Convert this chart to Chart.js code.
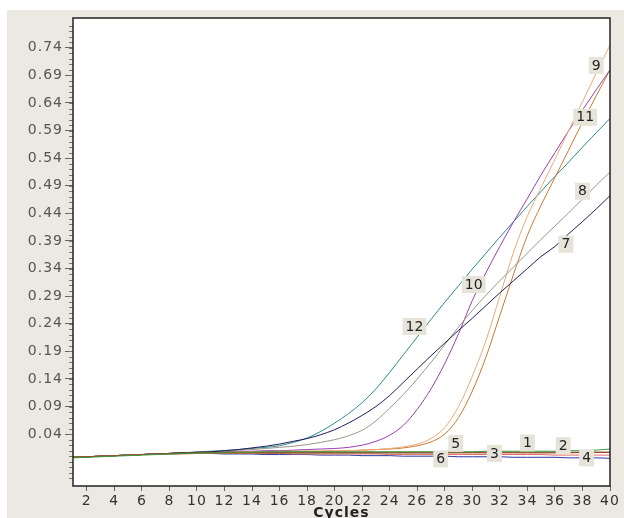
<!DOCTYPE html>
<html>
<head>
<meta charset="utf-8">
<script src="https://cdn.jsdelivr.net/npm/chart.js@4.4.0/dist/chart.umd.min.js"></script>
<style>
  html, body { margin: 0; padding: 0; background: #fff; }
  #wrap { width: 624px; height: 518px; }
</style>
</head>
<body>
<div id="wrap"><canvas id="myChart" width="624" height="518"></canvas></div>
<script>
const cycles = [1,2,3,4,5,6,7,8,9,10,11,12,13,14,15,16,17,18,19,20,21,22,23,24,25,26,27,28,29,30,31,32,33,34,35,36,37,38,39,40]

const yTicks = [0.04,0.09,0.14,0.19,0.24,0.29,0.34,0.39,0.44,0.49,0.54,0.59,0.64,0.69,0.74]

const well1 = [-0.003,-0.002,-0.001,0.000,0.001,0.002,0.003,0.004,0.005,0.006, 0.006,0.007,0.007,0.007,0.008,0.008,0.008,0.008,0.008,0.008, 0.008,0.008,0.008,0.008,0.008,0.008,0.008,0.008,0.008,0.008, 0.009,0.009,0.009,0.009,0.009,0.009,0.010,0.010,0.011,0.013]
const well2 = [-0.002,-0.001,0.000,0.001,0.002,0.003,0.004,0.005,0.005,0.006, 0.006,0.006,0.006,0.006,0.006,0.006,0.006,0.006,0.006,0.006, 0.006,0.006,0.006,0.006,0.006,0.006,0.006,0.006,0.006,0.006, 0.006,0.006,0.006,0.006,0.006,0.006,0.006,0.007,0.007,0.007]
const well3 = [-0.002,-0.001,0.000,0.001,0.002,0.003,0.004,0.004,0.005,0.005, 0.006,0.006,0.006,0.006,0.006,0.006,0.006,0.006,0.006,0.006, 0.006,0.006,0.006,0.006,0.006,0.006,0.006,0.007,0.007,0.007, 0.007,0.007,0.007,0.007,0.007,0.007,0.007,0.007,0.007,0.007]
const well4 = [-0.002,-0.001,0.000,0.001,0.002,0.003,0.003,0.004,0.004,0.005, 0.005,0.005,0.005,0.005,0.005,0.005,0.004,0.004,0.004,0.004, 0.004,0.004,0.004,0.003,0.003,0.003,0.003,0.003,0.003,0.003, 0.003,0.003,0.003,0.003,0.003,0.002,0.002,0.002,0.002,0.002]
const well5 = [-0.002,-0.001,0.000,0.001,0.002,0.003,0.004,0.005,0.006,0.006, 0.007,0.007,0.007,0.007,0.007,0.007,0.007,0.007,0.007,0.007, 0.007,0.007,0.007,0.007,0.007,0.007,0.007,0.007,0.007,0.007, 0.007,0.007,0.007,0.007,0.007,0.007,0.007,0.007,0.007,0.007]
const well6 = [-0.002,-0.001,0.000,0.001,0.002,0.003,0.004,0.004,0.005,0.005, 0.005,0.004,0.004,0.004,0.003,0.003,0.003,0.003,0.002,0.002, 0.002,0.001,0.001,0.001,0.000,0.000,0.000,0.000,-0.001,-0.001, -0.001,-0.001,-0.002,-0.002,-0.002,-0.002,-0.003,-0.003,-0.003,-0.004]
const well7 = [-0.002,-0.001,0.000,0.001,0.002,0.003,0.004,0.005,0.006,0.007, 0.008,0.010,0.012,0.015,0.018,0.022,0.027,0.032,0.039,0.048, 0.060,0.074,0.090,0.110,0.134,0.158,0.182,0.205,0.228,0.250, 0.273,0.296,0.318,0.340,0.362,0.380,0.403,0.425,0.448,0.472]
const well8 = [-0.002,-0.001,0.000,0.001,0.002,0.003,0.004,0.005,0.006,0.007, 0.008,0.009,0.011,0.012,0.014,0.016,0.018,0.021,0.025,0.030, 0.037,0.047,0.064,0.087,0.112,0.140,0.170,0.202,0.234,0.264, 0.292,0.318,0.343,0.368,0.393,0.417,0.441,0.466,0.491,0.515]
const well9 = [-0.002,-0.001,0.000,0.001,0.002,0.003,0.004,0.005,0.006,0.006, 0.007,0.007,0.008,0.008,0.008,0.009,0.009,0.009,0.009,0.010, 0.010,0.011,0.012,0.014,0.017,0.022,0.032,0.052,0.090,0.145, 0.210,0.290,0.370,0.435,0.487,0.538,0.590,0.642,0.694,0.745]
const well10 = [-0.002,-0.001,0.000,0.001,0.002,0.003,0.004,0.005,0.006,0.007, 0.008,0.008,0.009,0.009,0.010,0.010,0.011,0.012,0.013,0.014, 0.016,0.020,0.027,0.038,0.056,0.085,0.122,0.168,0.222,0.282, 0.333,0.380,0.425,0.467,0.510,0.550,0.590,0.627,0.664,0.700]
const well11 = [-0.002,-0.001,0.000,0.001,0.002,0.003,0.004,0.005,0.006,0.006, 0.007,0.007,0.008,0.008,0.008,0.009,0.009,0.009,0.009,0.010, 0.010,0.011,0.012,0.013,0.015,0.019,0.026,0.040,0.070,0.118, 0.180,0.255,0.330,0.400,0.455,0.505,0.555,0.605,0.653,0.700]
const well12 = [-0.002,-0.001,0.000,0.001,0.002,0.003,0.004,0.005,0.006,0.008, 0.009,0.010,0.012,0.014,0.016,0.019,0.025,0.033,0.045,0.060, 0.077,0.097,0.122,0.152,0.184,0.216,0.248,0.279,0.309,0.339, 0.368,0.397,0.425,0.453,0.480,0.507,0.533,0.560,0.586,0.612]

const wellNames = ["1","2","3","4","5","6","7","8","9","10","11","12"]
const wellColors = ["#3a9a3a","#b02a20","#78c070","#e07060","#3a2a22","#2a3aa8","#1e1e5a","#a09488","#eeaa78","#9a40b0","#cc7a30","#2e8a92"]
// where each number box sits (cycle, value)
const tagCycles = [34.0, 36.6, 31.6, 38.3, 28.8, 27.7, 36.8, 38.0, 39.0, 30.1, 38.2, 25.8]
const tagValues = [0.025, 0.020, 0.006, -0.002, 0.024, -0.004, 0.385, 0.481, 0.709, 0.312, 0.615, 0.236]

const allWells = [well1,well2,well3,well4,well5,well6,well7,well8,well9,well10,well11,well12]

const datasets = allWells.map((w, i) => {
  return {
    label: wellNames[i],
    data: cycles.map((c, j) => ({x: c, y: w[j]})),
    borderColor: wellColors[i],
    borderWidth: 1,
    pointRadius: 0,
    cubicInterpolationMode: "monotone",
    fill: false
  }
})

const frame = {
  id: "frame",
  beforeDraw(chart) {
    const ctx = chart.ctx
    const a = chart.chartArea
    ctx.save()
    ctx.fillStyle = "#ffffff"
    ctx.fillRect(0, 0, chart.width, chart.height)
    ctx.fillStyle = "#ece9e3"
    ctx.fillRect(7, 10, chart.width - 7, chart.height - 10)
    ctx.fillStyle = "#ffffff"
    ctx.fillRect(a.left, a.top, a.right - a.left, a.bottom - a.top)
    ctx.restore()
    // the old software spreads its digits a bit
    ctx.letterSpacing = "1px"
  },
  afterDraw(chart) {
    const ctx = chart.ctx
    const a = chart.chartArea
    const ys = chart.scales.y
    ctx.letterSpacing = "0px"
    ctx.save()
    // minor ticks on y
    ctx.strokeStyle = "#777"
    ctx.lineWidth = 1
    for (let v = -0.04; v <= 0.79; v += 0.01) {
      const py = Math.round(ys.getPixelForValue(v)) + 0.5
      if (py < a.top || py > a.bottom) continue
      ctx.beginPath()
      ctx.moveTo(a.left - 4, py)
      ctx.lineTo(a.left, py)
      ctx.stroke()
    }
    // box round plot
    ctx.strokeStyle = "#222"
    ctx.lineWidth = 1.5
    ctx.strokeRect(a.left, a.top, a.right - a.left, a.bottom - a.top)
    // number tags
    ctx.font = "14px 'DejaVu Sans'"
    ctx.textAlign = "center"
    ctx.textBaseline = "middle"
    wellNames.forEach((n, i) => {
      const px = chart.scales.x.getPixelForValue(tagCycles[i])
      const py = ys.getPixelForValue(tagValues[i])
      const w = ctx.measureText(n).width + 6
      ctx.fillStyle = "#e6e3d8"
      ctx.fillRect(px - w / 2, py - 8, w, 17)
      ctx.fillStyle = "#222"
      ctx.fillText(n, px, py + 1)
    })
    ctx.restore()
  }
}

const config = {
  type: "line",
  data: { datasets },
  options: {
    responsive: false,
    animation: false,
    events: [],
    layout: { padding: { left: 0, top: 18, right: 14, bottom: 0 } },
    plugins: { legend: { display: false }, tooltip: { enabled: false } },
    scales: {
      x: {
        type: "linear",
        min: 1,
        max: 40,
        border: { display: false },
        grid: { drawOnChartArea: false, tickLength: 5, color: "#666" },
        ticks: {
          stepSize: 2,
          includeBounds: false,
          maxRotation: 0,
          autoSkip: false,
          padding: 2,
          color: "#333",
          font: { family: "DejaVu Sans", size: 14 }
        },
        title: {
          display: true,
          text: "Cycles",
          color: "#222",
          padding: { top: 0, bottom: -2 },
          font: { family: "DejaVu Sans", size: 14, weight: "bold", lineHeight: 1 }
        },
        afterFit: (s) => { s.height = 32 }
      },
      y: {
        min: -0.054,
        max: 0.794,
        border: { display: false },
        grid: { drawOnChartArea: false, tickLength: 8, color: "#666" },
        afterBuildTicks: (s) => { s.ticks = yTicks.map(v => ({ value: v })) },
        ticks: {
          padding: 2,
          color: "#555",
          autoSkip: false,
          font: { family: "DejaVu Sans", size: 14 },
          callback: (v) => Number(v).toFixed(2)
        },
        afterFit: (s) => { s.width = 73 }
      }
    }
  },
  plugins: [frame]
}

new Chart(document.getElementById("myChart"), config)
</script>
</body>
</html>
